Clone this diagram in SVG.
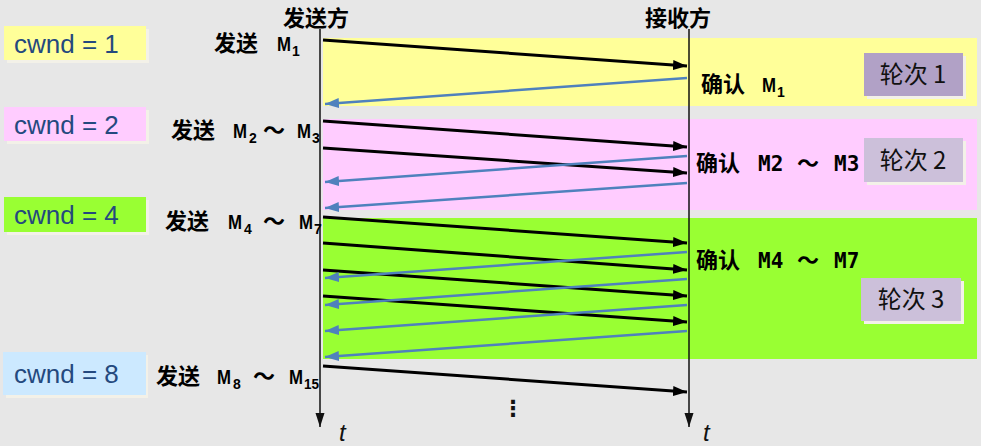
<svg xmlns="http://www.w3.org/2000/svg" width="981" height="446" viewBox="0 0 981 446">
<defs>
<marker id="ahBlack" markerUnits="userSpaceOnUse" markerWidth="15" markerHeight="10" refX="14" refY="5" orient="auto"><path d="M0,0 L14,5 L0,10 z" fill="#000"/></marker>
<marker id="ahBlue" markerUnits="userSpaceOnUse" markerWidth="15" markerHeight="10" refX="14" refY="5" orient="auto"><path d="M0,0 L14,5 L0,10 z" fill="#4f81bd"/></marker>
<marker id="ahLife" markerUnits="userSpaceOnUse" markerWidth="15" markerHeight="10" refX="14" refY="4.5" orient="auto"><path d="M0,0 L14,4.5 L0,9 z" fill="#111"/></marker>
</defs>
<style>
.cw{font-family:"Liberation Sans",Arial,sans-serif;font-size:26px;fill:#24497e}
.shadow{fill:#f3f1e8}
.zh{font-family:"Noto Sans CJK SC",sans-serif;font-weight:bold;font-size:22px;fill:#000}
.hd{font-family:"Noto Sans CJK SC",sans-serif;font-weight:bold;font-size:22px;fill:#000}
.m{font-family:"Liberation Sans Narrow","Liberation Sans",sans-serif;font-weight:bold;font-size:21px;fill:#000}
.sub{font-family:"Liberation Sans Narrow","Liberation Sans",sans-serif;font-weight:bold;font-size:14px;fill:#000}
.mono{font-family:"DejaVu Sans Mono",monospace;font-weight:bold;font-size:21px;fill:#000}
.rd{font-family:"Noto Sans CJK SC",sans-serif;font-size:24px;fill:#111}
.t{font-family:"Liberation Sans",Arial,sans-serif;font-style:italic;font-size:24px;fill:#111}
.data{stroke:#000;stroke-width:3;fill:none;marker-end:url(#ahBlack)}
.ack{stroke:#4f81bd;stroke-width:2.5;fill:none;marker-end:url(#ahBlue)}
.life{stroke:#111;stroke-width:1.5;fill:none;marker-end:url(#ahLife)}
</style>
<rect x="0" y="0" width="981" height="446" fill="#e7e7e7"/>

<g id="band1"><rect x="323" y="38" width="654" height="68" fill="#ffff99"/></g>
<g id="band2"><rect x="323" y="119" width="654" height="91" fill="#ffccff"/></g>
<g id="band3"><rect x="323" y="218" width="654" height="141" fill="#99ff33"/></g>

<g id="cwnd1"><rect class="shadow" x="7" y="29" width="142" height="34"/><rect x="4" y="26" width="142" height="34" fill="#ffff99"/><text class="cw" x="14" y="53">cwnd = 1</text></g>
<g id="cwnd2"><rect class="shadow" x="7" y="110" width="142" height="34"/><rect x="4" y="107" width="142" height="34" fill="#ffccff"/><text class="cw" x="14" y="134">cwnd = 2</text></g>
<g id="cwnd4"><rect class="shadow" x="7" y="200" width="142" height="35"/><rect x="4" y="197" width="142" height="35" fill="#99ff33"/><text class="cw" x="14" y="224">cwnd = 4</text></g>
<g id="cwnd8"><rect class="shadow" x="6" y="355" width="142" height="43"/><rect x="3" y="352" width="143" height="43" fill="#cce9ff"/><text class="cw" x="14" y="383">cwnd = 8</text></g>

<g id="round1"><rect class="shadow" x="867" y="56" width="99" height="43"/><rect x="864" y="53" width="99" height="43" fill="#b1a1c6"/><text class="rd" x="913" y="83" text-anchor="middle">轮次 1</text></g>
<g id="round2"><rect class="shadow" x="867" y="141" width="99" height="44"/><rect x="864" y="138" width="99" height="44" fill="#ccc0da"/><text class="rd" x="913" y="169" text-anchor="middle">轮次 2</text></g>
<g id="round3"><rect class="shadow" x="864" y="281" width="100" height="43"/><rect x="861" y="278" width="100" height="43" fill="#ccc0da"/><text class="rd" x="911" y="308" text-anchor="middle">轮次 3</text></g>

<g id="sender">
<text class="hd" x="316" y="26" text-anchor="middle">发送方</text>
<line class="life" x1="320" y1="29" x2="320" y2="427"/>
<text class="t" x="339" y="441">t</text>
</g>
<g id="receiver">
<text class="hd" x="678" y="26" text-anchor="middle">接收方</text>
<line class="life" x1="689" y1="29" x2="689" y2="427"/>
<text class="t" x="703" y="441">t</text>
</g>

<g id="send1"><text class="zh" x="214" y="51">发送</text><text class="m" x="277" y="51" textLength="14" lengthAdjust="spacingAndGlyphs">M</text><text class="sub" x="292" y="56">1</text></g>
<g id="send2"><text class="zh" x="171" y="138">发送</text><text class="m" x="233" y="138" textLength="14" lengthAdjust="spacingAndGlyphs">M</text><text class="sub" x="249" y="143">2</text><text class="zh" x="263" y="138">～</text><text class="m" x="297" y="138" textLength="14" lengthAdjust="spacingAndGlyphs">M</text><text class="sub" x="312" y="143">3</text></g>
<g id="send3"><text class="zh" x="165" y="229">发送</text><text class="m" x="228" y="229" textLength="14" lengthAdjust="spacingAndGlyphs">M</text><text class="sub" x="244" y="234">4</text><text class="zh" x="263" y="229">～</text><text class="m" x="299" y="229" textLength="14" lengthAdjust="spacingAndGlyphs">M</text><text class="sub" x="314" y="234">7</text></g>
<g id="send4"><text class="zh" x="156" y="384">发送</text><text class="m" x="217" y="384" textLength="14" lengthAdjust="spacingAndGlyphs">M</text><text class="sub" x="233" y="389">8</text><text class="zh" x="253" y="384">～</text><text class="m" x="289" y="384" textLength="14" lengthAdjust="spacingAndGlyphs">M</text><text class="sub" x="304" y="389" textLength="15" lengthAdjust="spacingAndGlyphs">15</text></g>

<g id="ack1"><text class="zh" x="701" y="92">确认</text><text class="m" x="762" y="92" textLength="14" lengthAdjust="spacingAndGlyphs">M</text><text class="sub" x="777" y="97">1</text></g>
<g id="ack2"><text class="zh" x="696" y="171">确认</text><text class="mono" x="758" y="171">M2</text><text class="zh" x="797" y="171">～</text><text class="mono" x="834" y="171">M3</text></g>
<g id="ack3"><text class="zh" x="696" y="268">确认</text><text class="mono" x="758" y="268">M4</text><text class="zh" x="797" y="268">～</text><text class="mono" x="834" y="268">M7</text></g>

<g id="connectors">
<line class="data" x1="323" y1="40" x2="687" y2="66"/>
<line class="ack" x1="687" y1="78" x2="325" y2="104"/>
<line class="data" x1="323" y1="121" x2="687" y2="147"/>
<line class="data" x1="323" y1="148" x2="687" y2="173"/>
<line class="ack" x1="687" y1="156" x2="325" y2="182"/>
<line class="ack" x1="687" y1="183" x2="325" y2="208"/>
<line class="data" x1="323" y1="217" x2="687" y2="243"/>
<line class="data" x1="323" y1="243" x2="687" y2="270"/>
<line class="data" x1="323" y1="270" x2="687" y2="296"/>
<line class="data" x1="323" y1="296" x2="687" y2="322"/>
<line class="ack" x1="687" y1="252" x2="325" y2="278"/>
<line class="ack" x1="687" y1="279" x2="325" y2="305"/>
<line class="ack" x1="687" y1="305" x2="325" y2="331"/>
<line class="ack" x1="687" y1="331" x2="325" y2="357"/>
<line class="data" x1="323" y1="366" x2="687" y2="392"/>
</g>
<text x="513" y="416" text-anchor="middle" style="font-family:'DejaVu Sans',sans-serif;font-weight:bold;font-size:22px;fill:#111">⋮</text>
</svg>
